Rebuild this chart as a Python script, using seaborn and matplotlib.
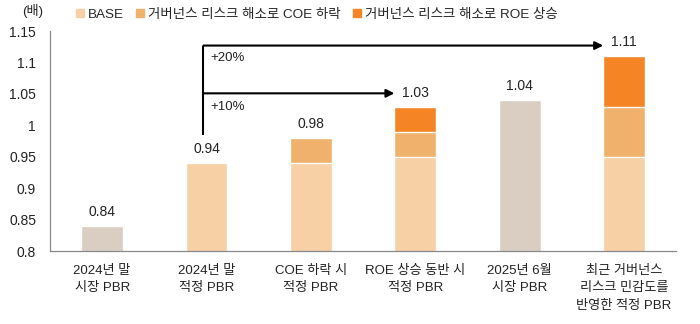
import matplotlib
matplotlib.use("Agg")
import matplotlib.pyplot as plt
import seaborn as sns
import pandas as pd
from matplotlib.patches import Patch

sns.set_theme(style="white")
plt.rcParams['font.family'] = ['Liberation Sans', 'Noto Sans CJK KR', 'DejaVu Sans']

categories = ["2024년 말\n시장 PBR", "2024년 말\n적정 PBR", "COE 하락 시\n적정 PBR",
              "ROE 상승 동반 시\n적정 PBR", "2025년 6월\n시장 PBR",
              "최근 거버넌스\n리스크 민감도를\n반영한 적정 PBR"]
base = [0.84, 0.94, 0.94, 0.95, 1.04, 0.95]
coe = [0.0, 0.0, 0.04, 0.04, 0.0, 0.08]
roe = [0.0, 0.0, 0.0, 0.04, 0.0, 0.08]
is_market = [True, False, False, False, True, False]
totals = [0.84, 0.94, 0.98, 1.03, 1.04, 1.11]
legend_labels = ["BASE", "거버넌스 리스크 해소로 COE 하락", "거버넌스 리스크 해소로 ROE 상승"]
yticks = [0.8, 0.85, 0.9, 0.95, 1.0, 1.05, 1.1, 1.15]
yticklabels = ["0.8", "0.85", "0.9", "0.95", "1", "1.05", "1.1", "1.15"]

C_BASE = "#F7D0A5"
C_COE = "#F0B16D"
C_ROE = "#F58524"
C_GRAY = "#DACEC2"

df = pd.DataFrame({"cat": categories, "base": base, "coe": coe, "roe": roe})
df["lvl2"] = df["base"] + df["coe"]
df["lvl3"] = df["lvl2"] + df["roe"]

fig = plt.figure(figsize=(7.0, 3.24), dpi=100)
ax = fig.add_axes([0.0714, 0.225, 0.8946, 0.679])

sns.barplot(data=df, x="cat", y="lvl3", color=C_ROE, width=0.4, ax=ax, saturation=1)
sns.barplot(data=df, x="cat", y="lvl2", color=C_COE, width=0.4, ax=ax, saturation=1)
base_pal = {c: (C_GRAY if m else C_BASE) for c, m in zip(categories, is_market)}
sns.barplot(data=df, x="cat", y="base", hue="cat", palette=base_pal, width=0.4,
            ax=ax, saturation=1, legend=False)

ax.set_ylim(0.8, 1.15)
ax.set_xlim(-0.5, 5.5)
ax.set_yticks(yticks)
ax.set_yticklabels(yticklabels)
ax.set_xlabel("")
ax.set_ylabel("")
ax.set_xticks(range(len(categories)))
ax.set_xticklabels(categories, fontsize=9.5, color="#222222", linespacing=1.6)
ax.set_xticks([i + 0.5 for i in range(-1, 6)], minor=True)
ax.tick_params(axis="x", which="major", length=0, pad=10)
ax.tick_params(axis="x", which="minor", direction="in", length=4, color="#888888", width=0.8)
ax.tick_params(axis="y", direction="in", length=4, color="#888888", width=0.8,
               labelsize=10, labelcolor="#222222", pad=10)
for s in ["top", "right"]:
    ax.spines[s].set_visible(False)
for s in ["left", "bottom"]:
    ax.spines[s].set_color("#888888")
    ax.spines[s].set_linewidth(0.9)

for i, t in enumerate(totals):
    ax.annotate(f"{t:.2f}", xy=(i, t), xytext=(0, 5), textcoords="offset points",
                ha="center", va="bottom", fontsize=10, color="#222222")

# arrows
x0 = 0.97
y_hi, y_lo, y_bot = 1.127, 1.051, 0.985
ax.plot([x0, x0], [y_hi, y_bot], color="black", lw=1.5, solid_capstyle="butt")
ax.annotate("", xy=(4.80, y_hi), xytext=(x0, y_hi),
            arrowprops=dict(arrowstyle="-|>", color="black", lw=1.5,
                            mutation_scale=12, shrinkA=0, shrinkB=0))
ax.annotate("", xy=(2.80, y_lo), xytext=(x0, y_lo),
            arrowprops=dict(arrowstyle="-|>", color="black", lw=1.5,
                            mutation_scale=12, shrinkA=0, shrinkB=0))
ax.text(1.04, 1.107, "+20%", fontsize=9.5, color="#222222", va="center", ha="left")
ax.text(1.04, 1.030, "+10%", fontsize=9.5, color="#222222", va="center", ha="left")

fig.text(0.032, 0.965, "(배)", fontsize=9.5, color="#222222", va="center", ha="left")

handles = [Patch(color=C_BASE), Patch(color=C_COE), Patch(color=C_ROE)]
fig.legend(handles, legend_labels, loc="center left", bbox_to_anchor=(0.108, 0.955),
           ncol=3, frameon=False, fontsize=9.7, handlelength=0.6, handleheight=0.6,
           handletextpad=0.3, columnspacing=0.9, borderaxespad=0, borderpad=0)

fig.savefig("out.png", dpi=100)
